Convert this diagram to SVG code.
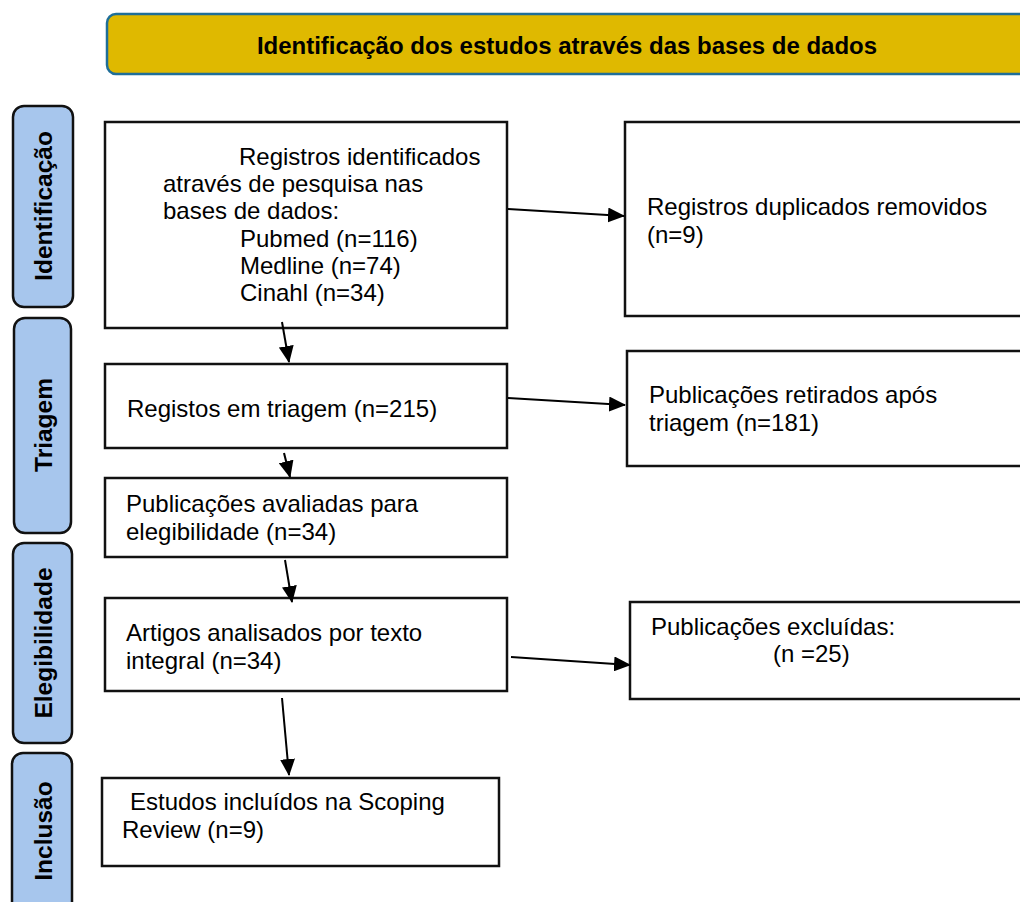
<svg xmlns="http://www.w3.org/2000/svg" width="1020" height="902" viewBox="0 0 1020 902">
<style>
.box{fill:#fff;stroke:#111;stroke-width:2.5}
.side{fill:#a7c6ed;stroke:#111;stroke-width:2.5}
.t{font-family:"Liberation Sans",Arial,sans-serif;font-size:24px;fill:#000}
.sl{font-family:"Liberation Sans",Arial,sans-serif;font-size:24.5px;font-weight:bold;fill:#000;text-anchor:middle}
.hd{font-family:"Liberation Sans",Arial,sans-serif;font-size:24px;font-weight:bold;fill:#000;text-anchor:middle}
.c{stroke:#000;stroke-width:2;fill:none;marker-end:url(#ah)}
</style>
<defs>
<marker id="ah" markerWidth="17" markerHeight="15" refX="16" refY="7.5" orient="auto" markerUnits="userSpaceOnUse">
<path d="M0,0 L17,7.5 L0,15 Z" fill="#000"/>
</marker>
</defs>
<rect width="1020" height="902" fill="#fff"/>
<g id="header">
<rect x="107" y="14" width="930" height="60" rx="9" fill="#dfb900" stroke="#1f6e98" stroke-width="2.5"/>
<text class="hd" x="567" y="54">Identificação dos estudos através das bases de dados</text>
</g>
<g id="lbl-identificacao">
<rect class="side" x="13" y="106" width="60" height="201" rx="11"/>
<text class="sl" x="52" y="206" transform="rotate(-90 52 206)">Identificação</text>
</g>
<g id="lbl-triagem">
<rect class="side" x="14" y="318" width="57" height="215" rx="11"/>
<text class="sl" x="52" y="425" transform="rotate(-90 52 425)">Triagem</text>
</g>
<g id="lbl-elegibilidade">
<rect class="side" x="13" y="543" width="59" height="200" rx="11"/>
<text class="sl" x="52" y="643" transform="rotate(-90 52 643)">Elegibilidade</text>
</g>
<g id="lbl-inclusao">
<rect class="side" x="12" y="753" width="60" height="170" rx="11"/>
<text class="sl" x="52" y="831" transform="rotate(-90 52 831)">Inclusão</text>
</g>
<g id="n-identificados">
<rect class="box" x="105" y="122" width="402" height="206"/>
<text class="t"><tspan x="239" y="165">Registros identificados</tspan><tspan x="163" y="192">através de pesquisa nas</tspan><tspan x="163" y="219">bases de dados:</tspan><tspan x="240" y="247">Pubmed (n=116)</tspan><tspan x="240" y="274">Medline (n=74)</tspan><tspan x="240" y="301">Cinahl (n=34)</tspan></text>
</g>
<g id="n-duplicados">
<rect class="box" x="625" y="122" width="420" height="194"/>
<text class="t"><tspan x="647" y="215">Registros duplicados removidos</tspan><tspan x="647" y="243">(n=9)</tspan></text>
</g>
<g id="n-triagem">
<rect class="box" x="105" y="364" width="402" height="84"/>
<text class="t" x="127" y="417">Registos em triagem (n=215)</text>
</g>
<g id="n-retirados">
<rect class="box" x="627" y="351" width="420" height="115"/>
<text class="t"><tspan x="649" y="403">Publicações retirados após</tspan><tspan x="649" y="431">triagem (n=181)</tspan></text>
</g>
<g id="n-avaliadas">
<rect class="box" x="105" y="478" width="402" height="79"/>
<text class="t"><tspan x="126" y="512">Publicações avaliadas para</tspan><tspan x="126" y="540">elegibilidade (n=34)</tspan></text>
</g>
<g id="n-artigos">
<rect class="box" x="105" y="598" width="402" height="93"/>
<text class="t"><tspan x="126" y="641">Artigos analisados por texto</tspan><tspan x="126" y="669">integral (n=34)</tspan></text>
</g>
<g id="n-excluidas">
<rect class="box" x="630" y="602" width="420" height="97"/>
<text class="t"><tspan x="651" y="635">Publicações excluídas:</tspan><tspan x="773" y="662">(n =25)</tspan></text>
</g>
<g id="n-incluidos">
<rect class="box" x="102" y="778" width="397" height="88"/>
<text class="t"><tspan x="130" y="810">Estudos incluídos na Scoping</tspan><tspan x="122" y="838">Review (n=9)</tspan></text>
</g>
<g id="connectors">
<line class="c" x1="508" y1="209" x2="624" y2="216"/>
<line class="c" x1="282" y1="322" x2="289" y2="362"/>
<line class="c" x1="508" y1="398" x2="625" y2="405"/>
<line class="c" x1="284" y1="453" x2="290" y2="477"/>
<line class="c" x1="285" y1="560" x2="292" y2="602"/>
<line class="c" x1="511" y1="657" x2="630" y2="665"/>
<line class="c" x1="282" y1="698" x2="289" y2="775"/>
</g>
</svg>
